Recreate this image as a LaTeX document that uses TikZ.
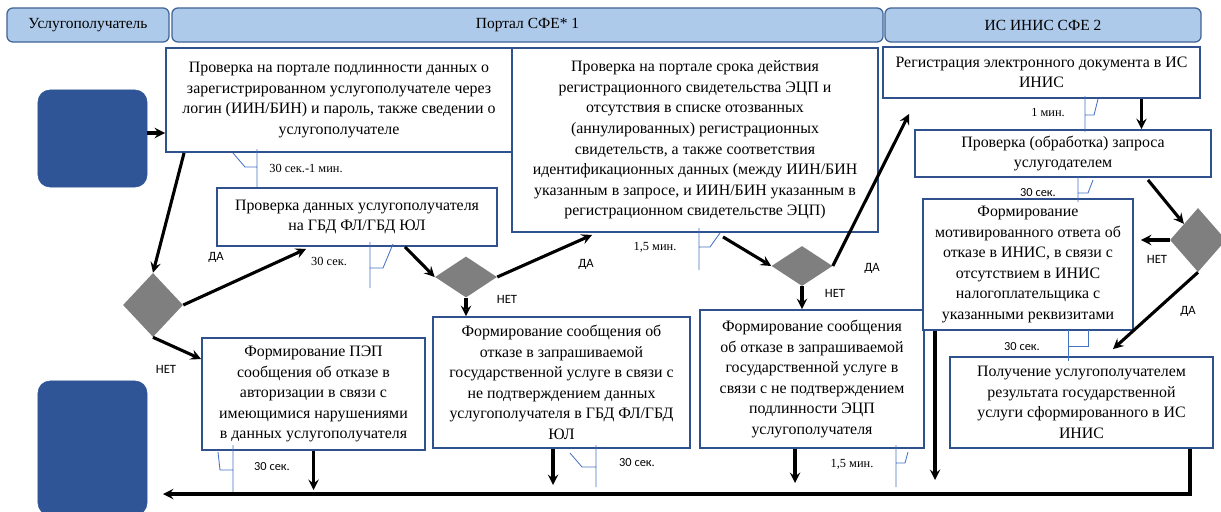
\documentclass[tikz,border=0pt]{standalone}
\usepackage{fontspec}
\setmainfont{Liberation Serif}
\newfontfamily\labelfont{Carlito}
\usepackage{tikz}
\usetikzlibrary{shapes.geometric, arrows, calc}
\definecolor{laneblue}{RGB}{174,202,234}
\definecolor{laneline}{RGB}{65,100,150}
\definecolor{boxline}{RGB}{47,82,143}
\definecolor{termblue}{RGB}{47,85,151}
\definecolor{decgray}{RGB}{127,127,127}
\definecolor{callblue}{RGB}{68,114,196}
\tikzstyle{lane} = [rectangle, rounded corners=0.15cm, draw=laneline, line width=0.9pt, fill=laneblue, inner sep=0pt, font=\fontsize{11}{13}\selectfont]
\tikzstyle{terminal} = [rectangle, rounded corners=0.3cm, draw=termblue, fill=termblue, inner sep=0pt]
\tikzstyle{process} = [rectangle, draw=boxline, line width=1.3pt, fill=white, align=center, inner sep=1pt, font=\fontsize{11.3}{14.6}\selectfont]
\tikzstyle{decision} = [diamond, fill=decgray, inner sep=0pt]
\tikzstyle{arrow} = [line width=2.2pt, ->, >=stealth]
\tikzstyle{callout} = [draw=callblue, line width=0.6pt]
\tikzstyle{answer} = [font=\labelfont\fontsize{9}{10}\selectfont, inner sep=0pt]
\tikzstyle{timeserif} = [font=\fontsize{8.8}{10}\selectfont, inner sep=0pt]
\tikzstyle{timesans} = [font=\labelfont\fontsize{8.8}{10}\selectfont, inner sep=0pt]

\begin{document}
\begin{tikzpicture}[x=0.025cm, y=-0.025cm]
\useasboundingbox (0,0) rectangle (1221,512);

\node (user) [lane, minimum width=4.05cm, minimum height=0.85cm] at (88,25) {Услугополучатель};
\node (portal) [lane, minimum width=17.775cm, minimum height=0.85cm] at (527.5,25) {Портал СФЕ* 1};
\node (inis) [lane, minimum width=7.9cm, minimum height=0.85cm] at (1043,25) {ИС ИНИС СФЕ 2};

\node (start) [terminal, minimum width=2.725cm, minimum height=2.425cm] at (92.5,138.5) {};
\node (finish) [terminal, minimum width=2.725cm, minimum height=3.35cm] at (92.5,448) {};

\node (t5) [timesans] at (1038,193) {30 сек.};

\node (authcheck) [process, minimum width=8.65cm, minimum height=2.6cm] at (339,100) {Проверка на портале  подлинности данных о\\зарегистрированном услугополучателе через\\логин (ИИН/БИН) и пароль, также сведении о\\услугополучателе};
\node (ecpcheck) [process, minimum width=9.15cm, minimum height=4.6cm] at (695,140) {Проверка на портале срока действия\\регистрационного свидетельства ЭЦП и\\отсутствия в списке отозванных\\(аннулированных) регистрационных\\свидетельств, а также соответствия\\идентификационных данных (между ИИН/БИН\\указанным в запросе, и ИИН/БИН указанным в\\регистрационном свидетельстве ЭЦП)};
\node (docreg) [process, minimum width=7.925cm, minimum height=1.275cm] at (1041.5,72.5) {Регистрация электронного документа в ИС\\ИНИС};
\node (reqcheck) [process, minimum width=7.4cm, minimum height=1.175cm] at (1063,153.5) {Проверка (обработка) запроса\\услугодателем};
\node (gbdcheck) [process, minimum width=7.0cm, minimum height=1.45cm] at (357,217) {Проверка данных услугополучателя\\на ГБД ФЛ/ГБД ЮЛ};
\node (ecprefuse) [process, minimum width=5.6cm, minimum height=3.45cm] at (812,379) {Формирование сообщения\\об отказе в запрашиваемой\\государственной услуге в\\связи с не подтверждением\\подлинности ЭЦП\\услугополучателя};
\node (inisrefuse) [process, minimum width=5.25cm, minimum height=3.275cm] at (1028,264.5) {Формирование\\мотивированного ответа об\\отказе в ИНИС, в связи с\\отсутствием в ИНИС\\налогоплательщика с\\указанными реквизитами};
\node (pepmsg) [process, minimum width=5.575cm, minimum height=2.8cm] at (313.5,394) {Формирование ПЭП\\сообщения об отказе в\\авторизации в связи с\\имеющимися нарушениями\\в данных услугополучателя};
\node (gbdrefuse) [process, minimum width=6.425cm, minimum height=3.275cm] at (561.5,382.5) {Формирование сообщения об\\отказе в запрашиваемой\\государственной услуге в связи с\\не подтверждением данных\\услугополучателя в ГБД ФЛ/ГБД\\ЮЛ};
\node (result) [process, minimum width=6.575cm, minimum height=2.275cm] at (1081.5,402.5) {Получение услугополучателем\\результата государственной\\услуги сформированного в ИС\\ИНИС};

\node (authdec) [decision, minimum width=1.5cm, minimum height=1.6cm] at (153,305) {};
\node (gbddec) [decision, minimum width=1.55cm, minimum height=1.025cm] at (466,277) {};
\node (ecpdec) [decision, minimum width=1.525cm, minimum height=1.0cm] at (802,266) {};
\node (inisdec) [decision, minimum width=1.4cm, minimum height=1.6cm] at (1198,240) {};

\draw [callout] (257,149) -- (257,187) (233,153) -- (245,167) -- (257,167);
\draw [callout] (370,242) -- (370,288) (393,244) -- (383,268) -- (370,268);
\draw [callout] (699,228) -- (699,270) (720,233) -- (710,247) -- (699,247);
\draw [callout] (1085,96) -- (1085,132) (1098,99) -- (1094,115) -- (1085,115);
\draw [callout] (1078,177) -- (1078,202) (1093,180) -- (1088,193) -- (1078,193);
\draw [callout] (1068,330) -- (1068,361) (1088,330) -- (1088,346) -- (1068,346);
\draw [callout] (233,445) -- (233,493) (218,452) -- (220,470) -- (233,470);
\draw [callout] (596,445) -- (596,487) (570,453) -- (582,467) -- (596,467);
\draw [callout] (896,445) -- (896,487) (908,452) -- (905,463) -- (896,463);

\coordinate (retcorner) at (1190,494);
\coordinate (retend) at (163,494);

\draw [arrow] ($(start.east)+(0,-5.5)$) -- ($(start.east -| authcheck.west)+(0,-5.5)$);
\draw [arrow] ($(authcheck.south west)+(19,0)$) -- (authdec.north);
\draw [arrow] (authdec.east) -- ($(gbdcheck.south west)+(90,2)$);
\draw [arrow] (authdec.south) -- ($(pepmsg.north west)+(0,22)$);
\draw [arrow] ($(gbdcheck.south east)+(-93,0)$) -- (gbddec.west);
\draw [arrow] (gbddec.east) -- ($(ecpcheck.south west)+(81,2)$);
\draw [arrow] (gbddec.south) -- (gbddec.south |- gbdrefuse.north);
\draw [arrow] ($(ecpcheck.south)+(28,4)$) -- (ecpdec.west);
\draw [arrow] (ecpdec.east) -- ($(docreg.south west)+(27,15)$);
\draw [arrow] (ecpdec.south) -- (ecpdec.south |- ecprefuse.north);
\draw [arrow] ($(docreg.south)+(100,0)$) -- ($(docreg.south |- reqcheck.north)+(100,0)$);
\draw [arrow] ($(reqcheck.south east)+(-64,2)$) -- (inisdec.north west);
\draw [arrow] (inisdec.west) -- ($(inisdec.west -| inisrefuse.east)+(7,0)$);
\draw [arrow] (inisdec.south) -- ($(result.north)+(31.5,-7)$);
\draw [arrow] (pepmsg.south) -- ($(pepmsg.south |- retend)+(0,-4)$);
\draw [arrow] ($(gbdrefuse.south)+(-8.5,0)$) -- ($(gbdrefuse.south |- retend)+(-8.5,-9)$);
\draw [arrow] ($(ecprefuse.south)+(-17,0)$) -- ($(ecprefuse.south |- retend)+(-17,-11)$);
\draw [arrow] ($(inisrefuse.south)+(-93,0)$) -- ($(inisrefuse.south |- retend)+(-93,-14)$);
\draw [arrow] (result.south -| retcorner) -- (retcorner) -- (retend);

\node (yes1) [answer] at (216,257) {ДА};
\node (no1) [answer] at (166,369) {НЕТ};
\node (yes2) [answer] at (586,264) {ДА};
\node (no2) [answer] at (507,299) {НЕТ};
\node (yes3) [answer] at (872,268) {ДА};
\node (no3) [answer] at (835,293) {НЕТ};
\node (no4) [answer] at (1157,259) {НЕТ};
\node (yes4) [answer] at (1188,311) {ДА};

\node (t1) [timeserif] at (306,168) {30 сек.-1 мин.};
\node (t2) [timeserif] at (329,261) {30 сек.};
\node (t3) [timeserif] at (655,247) {1,5 мин.};
\node (t4) [timeserif] at (1048,113) {1 мин.};
\node (t6) [timesans] at (1022,347) {30 сек.};
\node (t7) [timesans] at (272,467) {30 сек.};
\node (t8) [timesans] at (637,463) {30 сек.};
\node (t9) [timeserif] at (852,464) {1,5 мин.};
\end{tikzpicture}
\end{document}
